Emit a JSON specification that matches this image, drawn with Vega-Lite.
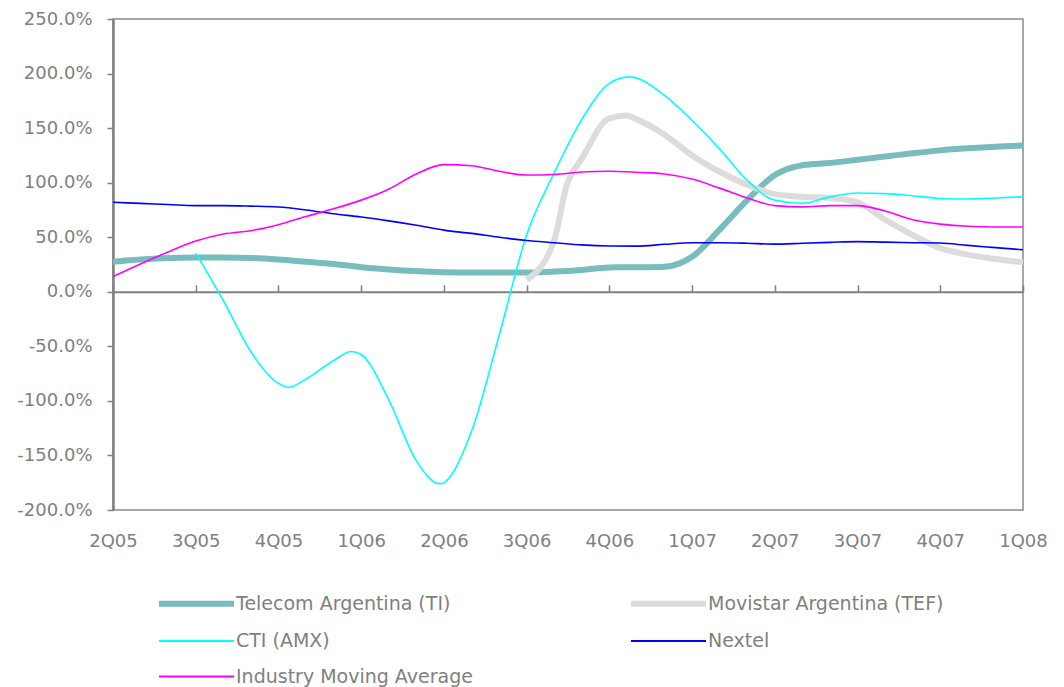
{
  "$schema": "https://vega.github.io/schema/vega-lite/v6.json",
  "width": 910,
  "height": 491,
  "autosize": {"type": "none"},
  "padding": {"left": 113, "top": 19, "right": 41, "bottom": 177},
  "background": "white",
  "config": {
    "view": {"stroke": "#8a8a8a", "strokeWidth": 1.5},
    "font": "DejaVu Sans",
    "axis": {"grid": false, "labelFont": "DejaVu Sans", "labelFontSize": 18, "labelColor": "#808080", "domainColor": "#808080", "tickColor": "#808080", "title": null}
  },
  "datasets": {
    "d": [
      {"s": "Telecom Argentina (TI)", "q": 0, "v": 27.5},
      {"s": "Telecom Argentina (TI)", "q": 0.333, "v": 29.5},
      {"s": "Telecom Argentina (TI)", "q": 0.667, "v": 31},
      {"s": "Telecom Argentina (TI)", "q": 1, "v": 31.5},
      {"s": "Telecom Argentina (TI)", "q": 1.333, "v": 31.5},
      {"s": "Telecom Argentina (TI)", "q": 1.667, "v": 31},
      {"s": "Telecom Argentina (TI)", "q": 2, "v": 29.5},
      {"s": "Telecom Argentina (TI)", "q": 2.333, "v": 27.5},
      {"s": "Telecom Argentina (TI)", "q": 2.667, "v": 25.5},
      {"s": "Telecom Argentina (TI)", "q": 3, "v": 22.5},
      {"s": "Telecom Argentina (TI)", "q": 3.333, "v": 20.5},
      {"s": "Telecom Argentina (TI)", "q": 3.667, "v": 19},
      {"s": "Telecom Argentina (TI)", "q": 4, "v": 18},
      {"s": "Telecom Argentina (TI)", "q": 4.333, "v": 17.7},
      {"s": "Telecom Argentina (TI)", "q": 4.667, "v": 17.7},
      {"s": "Telecom Argentina (TI)", "q": 5, "v": 17.7},
      {"s": "Telecom Argentina (TI)", "q": 5.333, "v": 18.5},
      {"s": "Telecom Argentina (TI)", "q": 5.667, "v": 20},
      {"s": "Telecom Argentina (TI)", "q": 6, "v": 22.3},
      {"s": "Telecom Argentina (TI)", "q": 6.333, "v": 22.5},
      {"s": "Telecom Argentina (TI)", "q": 6.667, "v": 23},
      {"s": "Telecom Argentina (TI)", "q": 6.85, "v": 26},
      {"s": "Telecom Argentina (TI)", "q": 7, "v": 32},
      {"s": "Telecom Argentina (TI)", "q": 7.333, "v": 57},
      {"s": "Telecom Argentina (TI)", "q": 7.667, "v": 84},
      {"s": "Telecom Argentina (TI)", "q": 8, "v": 107},
      {"s": "Telecom Argentina (TI)", "q": 8.333, "v": 116},
      {"s": "Telecom Argentina (TI)", "q": 8.667, "v": 118},
      {"s": "Telecom Argentina (TI)", "q": 9, "v": 121},
      {"s": "Telecom Argentina (TI)", "q": 9.333, "v": 124},
      {"s": "Telecom Argentina (TI)", "q": 9.667, "v": 127},
      {"s": "Telecom Argentina (TI)", "q": 10, "v": 129.6},
      {"s": "Telecom Argentina (TI)", "q": 10.333, "v": 131.5},
      {"s": "Telecom Argentina (TI)", "q": 10.667, "v": 133},
      {"s": "Telecom Argentina (TI)", "q": 11, "v": 134},

      {"s": "Movistar Argentina (TEF)", "q": 5, "v": 11},
      {"s": "Movistar Argentina (TEF)", "q": 5.333, "v": 47},
      {"s": "Movistar Argentina (TEF)", "q": 5.48, "v": 96.6},
      {"s": "Movistar Argentina (TEF)", "q": 5.667, "v": 122},
      {"s": "Movistar Argentina (TEF)", "q": 6, "v": 159},
      {"s": "Movistar Argentina (TEF)", "q": 6.21, "v": 161.5},
      {"s": "Movistar Argentina (TEF)", "q": 6.333, "v": 158},
      {"s": "Movistar Argentina (TEF)", "q": 6.667, "v": 144},
      {"s": "Movistar Argentina (TEF)", "q": 7, "v": 125},
      {"s": "Movistar Argentina (TEF)", "q": 7.333, "v": 110},
      {"s": "Movistar Argentina (TEF)", "q": 7.667, "v": 98},
      {"s": "Movistar Argentina (TEF)", "q": 8, "v": 89.5},
      {"s": "Movistar Argentina (TEF)", "q": 8.333, "v": 87},
      {"s": "Movistar Argentina (TEF)", "q": 8.667, "v": 86},
      {"s": "Movistar Argentina (TEF)", "q": 9, "v": 82},
      {"s": "Movistar Argentina (TEF)", "q": 9.333, "v": 66},
      {"s": "Movistar Argentina (TEF)", "q": 9.667, "v": 52},
      {"s": "Movistar Argentina (TEF)", "q": 10, "v": 40},
      {"s": "Movistar Argentina (TEF)", "q": 10.333, "v": 34},
      {"s": "Movistar Argentina (TEF)", "q": 10.667, "v": 30},
      {"s": "Movistar Argentina (TEF)", "q": 11, "v": 27},

      {"s": "CTI (AMX)", "q": 1, "v": 35.5},
      {"s": "CTI (AMX)", "q": 1.333, "v": -8},
      {"s": "CTI (AMX)", "q": 1.667, "v": -55},
      {"s": "CTI (AMX)", "q": 2, "v": -84},
      {"s": "CTI (AMX)", "q": 2.12, "v": -87.5},
      {"s": "CTI (AMX)", "q": 2.333, "v": -80},
      {"s": "CTI (AMX)", "q": 2.667, "v": -63},
      {"s": "CTI (AMX)", "q": 2.88, "v": -54.7},
      {"s": "CTI (AMX)", "q": 3, "v": -57.5},
      {"s": "CTI (AMX)", "q": 3.333, "v": -99},
      {"s": "CTI (AMX)", "q": 3.667, "v": -155},
      {"s": "CTI (AMX)", "q": 3.95, "v": -176},
      {"s": "CTI (AMX)", "q": 4.333, "v": -128},
      {"s": "CTI (AMX)", "q": 4.667, "v": -40},
      {"s": "CTI (AMX)", "q": 5, "v": 52},
      {"s": "CTI (AMX)", "q": 5.333, "v": 109},
      {"s": "CTI (AMX)", "q": 5.667, "v": 158},
      {"s": "CTI (AMX)", "q": 6, "v": 191},
      {"s": "CTI (AMX)", "q": 6.24, "v": 197},
      {"s": "CTI (AMX)", "q": 6.667, "v": 180},
      {"s": "CTI (AMX)", "q": 7, "v": 157},
      {"s": "CTI (AMX)", "q": 7.333, "v": 131},
      {"s": "CTI (AMX)", "q": 7.667, "v": 102},
      {"s": "CTI (AMX)", "q": 8, "v": 84},
      {"s": "CTI (AMX)", "q": 8.333, "v": 81},
      {"s": "CTI (AMX)", "q": 8.667, "v": 87},
      {"s": "CTI (AMX)", "q": 9, "v": 90.5},
      {"s": "CTI (AMX)", "q": 9.333, "v": 90},
      {"s": "CTI (AMX)", "q": 9.667, "v": 88},
      {"s": "CTI (AMX)", "q": 10, "v": 85.5},
      {"s": "CTI (AMX)", "q": 10.333, "v": 85},
      {"s": "CTI (AMX)", "q": 10.667, "v": 86},
      {"s": "CTI (AMX)", "q": 11, "v": 87},

      {"s": "Nextel", "q": 0, "v": 82},
      {"s": "Nextel", "q": 0.333, "v": 81},
      {"s": "Nextel", "q": 0.667, "v": 80},
      {"s": "Nextel", "q": 1, "v": 79},
      {"s": "Nextel", "q": 1.333, "v": 79},
      {"s": "Nextel", "q": 1.667, "v": 78.5},
      {"s": "Nextel", "q": 2, "v": 77.7},
      {"s": "Nextel", "q": 2.333, "v": 75},
      {"s": "Nextel", "q": 2.667, "v": 71.5},
      {"s": "Nextel", "q": 3, "v": 68.5},
      {"s": "Nextel", "q": 3.333, "v": 65},
      {"s": "Nextel", "q": 3.667, "v": 61},
      {"s": "Nextel", "q": 4, "v": 56.5},
      {"s": "Nextel", "q": 4.333, "v": 53.5},
      {"s": "Nextel", "q": 4.667, "v": 50},
      {"s": "Nextel", "q": 5, "v": 47},
      {"s": "Nextel", "q": 5.333, "v": 45},
      {"s": "Nextel", "q": 5.667, "v": 43},
      {"s": "Nextel", "q": 6, "v": 42},
      {"s": "Nextel", "q": 6.333, "v": 41.8},
      {"s": "Nextel", "q": 6.667, "v": 43.5},
      {"s": "Nextel", "q": 7, "v": 45},
      {"s": "Nextel", "q": 7.333, "v": 45},
      {"s": "Nextel", "q": 7.667, "v": 44.5},
      {"s": "Nextel", "q": 8, "v": 43.7},
      {"s": "Nextel", "q": 8.333, "v": 44.5},
      {"s": "Nextel", "q": 8.667, "v": 45.3},
      {"s": "Nextel", "q": 9, "v": 46},
      {"s": "Nextel", "q": 9.333, "v": 45.5},
      {"s": "Nextel", "q": 9.667, "v": 45},
      {"s": "Nextel", "q": 10, "v": 44.7},
      {"s": "Nextel", "q": 10.333, "v": 42.5},
      {"s": "Nextel", "q": 10.667, "v": 40.5},
      {"s": "Nextel", "q": 11, "v": 38.5},

      {"s": "Industry Moving Average", "q": 0, "v": 14},
      {"s": "Industry Moving Average", "q": 0.333, "v": 25.5},
      {"s": "Industry Moving Average", "q": 0.667, "v": 36.5},
      {"s": "Industry Moving Average", "q": 1, "v": 46.5},
      {"s": "Industry Moving Average", "q": 1.333, "v": 53},
      {"s": "Industry Moving Average", "q": 1.667, "v": 56},
      {"s": "Industry Moving Average", "q": 2, "v": 61.5},
      {"s": "Industry Moving Average", "q": 2.333, "v": 69},
      {"s": "Industry Moving Average", "q": 2.667, "v": 76},
      {"s": "Industry Moving Average", "q": 3, "v": 84},
      {"s": "Industry Moving Average", "q": 3.333, "v": 94},
      {"s": "Industry Moving Average", "q": 3.667, "v": 108},
      {"s": "Industry Moving Average", "q": 4, "v": 116.5},
      {"s": "Industry Moving Average", "q": 4.333, "v": 115.5},
      {"s": "Industry Moving Average", "q": 4.667, "v": 110.5},
      {"s": "Industry Moving Average", "q": 5, "v": 107},
      {"s": "Industry Moving Average", "q": 5.333, "v": 107.5},
      {"s": "Industry Moving Average", "q": 5.667, "v": 109.8},
      {"s": "Industry Moving Average", "q": 6, "v": 110.4},
      {"s": "Industry Moving Average", "q": 6.333, "v": 109.5},
      {"s": "Industry Moving Average", "q": 6.667, "v": 108},
      {"s": "Industry Moving Average", "q": 7, "v": 103.3},
      {"s": "Industry Moving Average", "q": 7.333, "v": 95},
      {"s": "Industry Moving Average", "q": 7.667, "v": 86},
      {"s": "Industry Moving Average", "q": 8, "v": 79},
      {"s": "Industry Moving Average", "q": 8.333, "v": 77.8},
      {"s": "Industry Moving Average", "q": 8.667, "v": 79},
      {"s": "Industry Moving Average", "q": 9, "v": 79},
      {"s": "Industry Moving Average", "q": 9.333, "v": 74},
      {"s": "Industry Moving Average", "q": 9.667, "v": 66},
      {"s": "Industry Moving Average", "q": 10, "v": 62},
      {"s": "Industry Moving Average", "q": 10.333, "v": 60},
      {"s": "Industry Moving Average", "q": 10.667, "v": 59.4},
      {"s": "Industry Moving Average", "q": 11, "v": 59.4}
    ]
  },
  "data": {"name": "d"},
  "layer": [
    {
      "mark": {"type": "line", "interpolate": "monotone"},
      "encoding": {
        "x": {
          "field": "q", "type": "quantitative",
          "scale": {"domain": [0, 11], "nice": false, "zero": false},
          "axis": {
            "orient": "bottom", "values": [0, 1, 2, 3, 4, 5, 6, 7, 8, 9, 10, 11],
            "labelExpr": "['2Q05','3Q05','4Q05','1Q06','2Q06','3Q06','4Q06','1Q07','2Q07','3Q07','4Q07','1Q08'][datum.value]",
            "domain": false, "ticks": false, "labelPadding": 22, "labelFlush": false, "labelOverlap": false
          }
        },
        "y": {
          "field": "v", "type": "quantitative",
          "scale": {"domain": [-200, 250], "nice": false, "zero": false},
          "axis": {
            "values": [-200, -150, -100, -50, 0, 50, 100, 150, 200, 250],
            "labelExpr": "(datum.value < 0 ? '-' : '') + format(abs(datum.value), '.1f') + '%'",
            "domainWidth": 2.5, "tickSize": 6, "tickWidth": 1.5, "labelPadding": 15, "labelFlush": false, "labelOverlap": false
          }
        },
        "color": {
          "field": "s", "type": "nominal",
          "scale": {
            "domain": ["Telecom Argentina (TI)", "CTI (AMX)", "Industry Moving Average", "Movistar Argentina (TEF)", "Nextel"],
            "range": ["#78bdbb", "#00ffff", "#ff00ff", "#dcdcdc", "#0000ff"]
          },
          "legend": {
            "orient": "none", "legendX": 74, "legendY": 575, "columns": 2, "title": null,
            "symbolType": "M-5,0H5", "symbolSize": 225, "symbolStrokeWidth": 2,
            "labelFont": "DejaVu Sans", "labelFontSize": 19, "labelColor": "#808080", "labelOffset": 30, "labelLimit": 400,
            "columnPadding": 146, "rowPadding": 15.5, "padding": 0,
            "encode": {"symbols": {"update": {"strokeWidth": {"signal": "indexof(['Telecom Argentina (TI)','Movistar Argentina (TEF)'], datum.value) >= 0 ? 6 : 2"}}}}
          }
        },
        "strokeWidth": {
          "field": "s", "type": "nominal",
          "scale": {"type": "ordinal", "domain": ["Telecom Argentina (TI)", "Movistar Argentina (TEF)", "CTI (AMX)", "Nextel", "Industry Moving Average"], "range": [6, 6, 1.6, 1.6, 1.6]},
          "legend": null
        }
      }
    },
    {
      "mark": {"type": "rule", "opacity": 0},
      "encoding": {
        "x": {
          "field": "q", "type": "quantitative",
          "axis": {
            "orient": "top", "offset": -272.8, "values": [0, 1, 2, 3, 4, 5, 6, 7, 8, 9, 10, 11],
            "labels": false, "domainWidth": 2, "tickSize": 7, "tickWidth": 1.5
          }
        }
      }
    }
  ],
  "resolve": {"axis": {"x": "independent"}}
}
